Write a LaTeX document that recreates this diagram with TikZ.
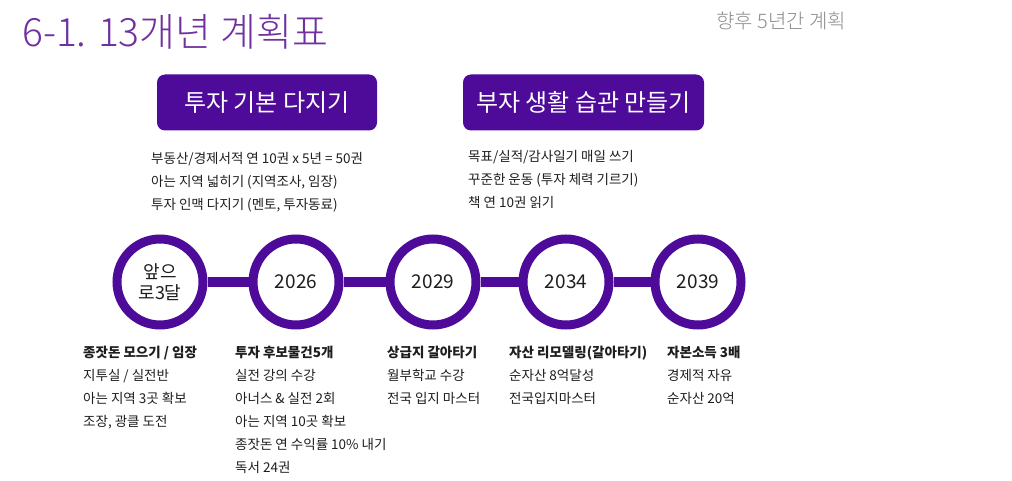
\documentclass[tikz,border=0pt]{standalone}
\usepackage{fontspec}
\setmainfont{Noto Sans CJK KR}
\newfontfamily\lightfont{Noto Sans CJK KR Light}
\usetikzlibrary{positioning}
\definecolor{titlepurple}{HTML}{7030A0}
\definecolor{deeppurple}{HTML}{4E0B9A}
\definecolor{notegray}{HTML}{8C8C8C}
\definecolor{ink}{HTML}{1E1E1E}

\begin{document}
\begin{tikzpicture}[x=1pt, y=-1pt,
    goalbox/.style={fill=deeppurple, rounded corners=8pt, minimum width=#1, minimum height=56pt,
        text=white, font=\fontsize{24}{28}\selectfont},
    ring/.style={circle, draw=deeppurple, line width=9pt, fill=white, minimum size=86pt,
        inner sep=0pt, text=ink, align=center, font=\fontsize{19}{21}\selectfont},
    link/.style={draw=deeppurple, line width=10pt},
    notes/.style={anchor=north west, inner sep=0pt, align=left, text=ink,
        font=\fontsize{13.5}{23}\selectfont}]
    \useasboundingbox (0,0) rectangle (1012,481);

    % heading
    \node[anchor=base west, inner sep=0pt, text=titlepurple, font=\lightfont\fontsize{39}{42}\selectfont] (title) at (22,47) {6-1. 13개년 계획표};
    \node[anchor=base west, inner sep=0pt, text=notegray, font=\lightfont\fontsize{20}{22}\selectfont] (period) at (716,29) {향후 5년간 계획};

    % two goals
    \node[goalbox=220pt] (basics) at (267,102.5) {투자 기본 다지기};
    \node[goalbox=241pt] (habits) at (583.5,102.5) {부자 생활 습관 만들기};
    \node[notes] (basicsnotes) at (151,152) {부동산/경제서적 연 10권 x 5년 = 50권\\아는 지역 넓히기 (지역조사, 임장)\\투자 인맥 다지기 (멘토, 투자동료)};
    \node[notes] (habitsnotes) at (468,150) {목표/실적/감사일기 매일 쓰기\\꾸준한 운동 (투자 체력 기르기)\\책 연 10권 읽기};

    % timeline
    \node[ring, font=\fontsize{18}{21}\selectfont] (now) at (160,282) {앞으\\로3달};
    \node[ring] (y2026) at (296,282) {2026};
    \node[ring] (y2029) at (433,282) {2029};
    \node[ring] (y2034) at (566,282) {2034};
    \node[ring] (y2039) at (698,282) {2039};
    \foreach \a/\b in {now/y2026, y2026/y2029, y2029/y2034, y2034/y2039}
        \draw[link] (\a) -- (\b);

    % what to do at each step
    \node[notes] (nownotes) at (83,346) {\textbf{종잣돈 모으기 / 임장}\\지투실 /  실전반\\아는 지역 3곳 확보\\조장, 광클 도전};
    \node[notes] (notes2026) at (235,346) {\textbf{투자 후보물건5개}\\실전 강의 수강\\아너스 \& 실전 2회\\아는 지역 10곳 확보\\종잣돈 연 수익률 10\% 내기\\독서 24권};
    \node[notes] (notes2029) at (387,346) {\textbf{상급지 갈아타기}\\월부학교 수강\\전국 입지 마스터};
    \node[notes] (notes2034) at (509,346) {\textbf{자산 리모델링(갈아타기)}\\순자산 8억달성\\전국입지마스터};
    \node[notes] (notes2039) at (667,346) {\textbf{자본소득 3배}\\경제적 자유\\순자산 20억};
\end{tikzpicture}
\end{document}
